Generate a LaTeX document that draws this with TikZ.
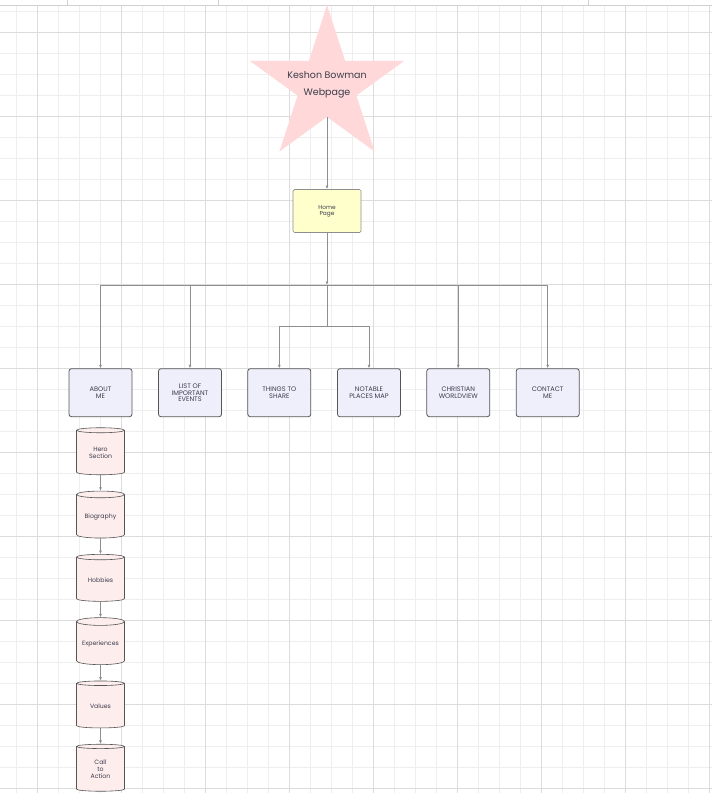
\documentclass[tikz,border=0pt]{standalone}
\usepackage{fontspec}
\setmainfont{Poppins}
\usetikzlibrary{shapes.geometric,arrows.meta,positioning}
\definecolor{gridminor}{HTML}{EEEEEE}
\definecolor{gridmajor}{HTML}{DCDCDC}
\definecolor{stripline}{HTML}{D0D0D0}
\definecolor{starpink}{HTML}{FFD9D9}
\definecolor{homeyellow}{HTML}{FFFFCC}
\definecolor{sectionblue}{HTML}{EFEFFC}
\definecolor{pagepink}{HTML}{FDEDED}
\definecolor{edgegray}{HTML}{555555}
\definecolor{linkgray}{HTML}{8E8E8E}
\definecolor{textgray}{HTML}{3C3C4C}
\begin{document}
\begin{tikzpicture}[
	x=1pt,
	y=-1pt,
	line join=round,
	>={Latex[length=3.5pt,width=3pt]},
	every node/.style={text=textgray, align=center},
	title/.style={star, star points=5, star point ratio=2.618, minimum size=162pt,
		inner sep=0pt, fill=starpink},
	titletext/.style={font=\fontsize{9.5}{17}\selectfont, inner sep=0pt},
	homebox/.style={draw=linkgray, fill=homeyellow, rounded corners=1.5pt, line width=0.7pt,
		minimum width=68pt, minimum height=43pt, inner sep=1pt, font=\fontsize{5.8}{5.7}\selectfont},
	sectionbox/.style={draw=edgegray, fill=sectionblue, rounded corners=2.5pt, line width=0.8pt,
		minimum width=63pt, minimum height=48pt, inner sep=1pt, font=\fontsize{6.6}{6.4}\selectfont},
	pagecyl/.style={cylinder, shape border rotate=90, aspect=0.2, draw=edgegray, fill=pagepink,
		line width=0.6pt, minimum width=48pt, minimum height=47pt, inner sep=1pt,
		font=\fontsize{6.2}{6.7}\selectfont},
	link/.style={draw=linkgray, line width=0.8pt},
	]
\useasboundingbox (0,0) rectangle (712,793);
% grid
\foreach \k in {0,...,33}
	\draw[gridminor, line width=0.8pt] ({16.7+21*\k},5.3) -- ({16.7+21*\k},793);
\foreach \k in {0,...,37}
	\draw[gridminor, line width=0.8pt] (0,{11.3+21*\k}) -- (712,{11.3+21*\k});
\foreach \k in {0,...,8}
	\draw[gridmajor, line width=0.8pt] ({37.7+84*\k},5.3) -- ({37.7+84*\k},793);
\foreach \k in {0,...,9}
	\draw[gridmajor, line width=0.8pt] (0,{32.3+84*\k}) -- (712,{32.3+84*\k});
\draw[stripline, line width=0.8pt] (0,5.3) -- (712,5.3);
\foreach \x in {67.7, 218.3, 588.3}
	\draw[stripline, line width=0.8pt] (\x,0) -- (\x,5.3);
% nodes
\node[title, label={[titletext, yshift=1pt]center:Keshon Bowman\\Webpage}] (star) at (327,86) {};
\node[homebox] (home) at (327,211) {Home\\Page};
\node[sectionbox] (about) at (100.5,392.7) {ABOUT\\ME};
\node[sectionbox] (events) at (190,392.7) {LIST OF\\IMPORTANT\\EVENTS};
\node[sectionbox] (share) at (279.3,392.7) {THINGS TO\\SHARE};
\node[sectionbox] (places) at (369,392.7) {NOTABLE\\PLACES MAP};
\node[sectionbox] (worldview) at (458.3,392.7) {CHRISTIAN\\WORLDVIEW};
\node[sectionbox] (contact) at (547.7,392.7) {CONTACT\\ME};
\node[pagecyl] (hero) at (100.5,453) {Hero\\Section};
\node[pagecyl, below=15.7pt of hero] (bio) {Biography};
\node[pagecyl, below=15.7pt of bio] (hobbies) {Hobbies};
\node[pagecyl, below=15.7pt of hobbies] (experiences) {Experiences};
\node[pagecyl, below=15.7pt of experiences] (values) {Values};
\node[pagecyl, below=15.7pt of values] (action) {Call\\to\\Action};
% connectors
\coordinate (bus) at (327,285);
\coordinate (lowbus) at (327,326.7);
\draw[link,->] (star) -- (home);
\draw[link,->] (home) -- (bus);
\foreach \s in {about, events, worldview, contact}
	\draw[link,->] (bus) -| (\s);
\draw[link] (bus) -- (lowbus);
\foreach \s in {share, places}
	\draw[link,->] (lowbus) -| (\s);
\draw[link,->] (hero) -- (bio);
\draw[link,->] (bio) -- (hobbies);
\draw[link,->] (hobbies) -- (experiences);
\draw[link,->] (experiences) -- (values);
\draw[link,->] (values) -- (action);
\end{tikzpicture}
\end{document}
